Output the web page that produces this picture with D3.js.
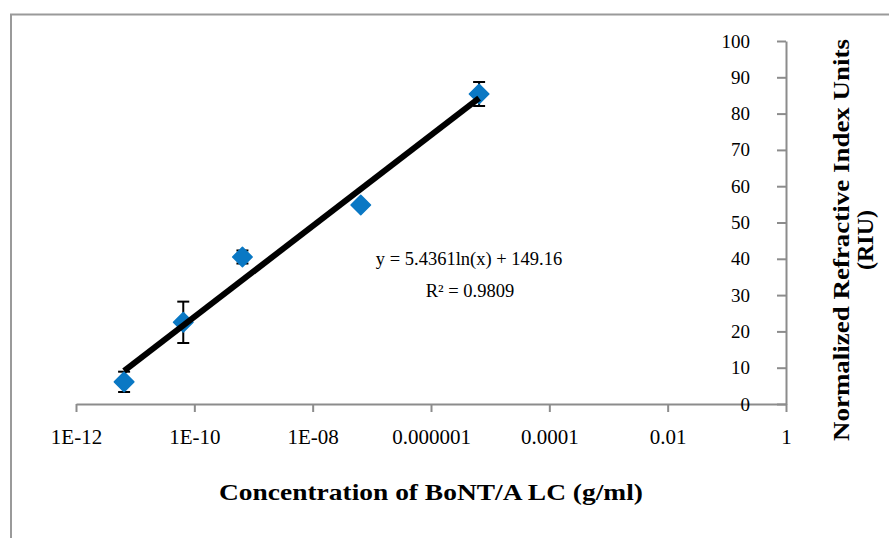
<!DOCTYPE html>
<html>
<head>
<meta charset="utf-8">
<script src="https://cdn.jsdelivr.net/npm/d3@7"></script>
<style>
  body { margin: 0; background: #fff; }
  svg { display: block; font-family: "Liberation Serif", "DejaVu Serif", serif; }
</style>
</head>
<body>
<svg id="chart" width="889" height="538"></svg>
<script>
var svg = d3.select('#chart')
var width = 889, height = 538;

// data
var concentrations = [6.5e-12, 6.5e-11, 6.5e-10, 6.5e-8, 6.5e-6];
var riu = [6.1, 22.5, 40.5, 54.8, 85.4];
var riuErr = [2.8, 5.7, 1.8, 0.6, 3.3];
var xTickValues = [1e-12, 1e-10, 1e-8, 1e-6, 1e-4, 1e-2, 1];
var xTickLabels = ["1E-12", "1E-10", "1E-08", "0.000001", "0.0001", "0.01", "1"];
var yTickValues = [0, 10, 20, 30, 40, 50, 60, 70, 80, 90, 100];
var fitA = 5.4361, fitB = 149.16;

var x = d3.scaleLog().domain([1e-12, 1]).range([76, 786]);
var y = d3.scaleLinear().domain([0, 100]).range([404, 41]);

// outer chart frame (cut off at the right and bottom)
svg.append("rect")
    .attr("x", 11).attr("y", 14.5)
    .attr("width", 1000).attr("height", 1000)
    .attr("fill", "none")
    .attr("stroke", "#9a9a9a")
    .attr("stroke-width", 2)

// x axis
var xAxis = d3.axisBottom(x)
    .tickValues(xTickValues)
    .tickFormat(function (d, i) { return xTickLabels[i] })
    .tickSize(8)
    .tickSizeOuter(0)
var gx = svg.append("g")
    .attr("transform", "translate(0," + y(0) + ")")
    .call(xAxis)
gx.select(".domain").attr("stroke", "#8c8c8c").attr("stroke-width", 2)
gx.selectAll(".tick line").attr("stroke", "#8c8c8c").attr("stroke-width", 2)
gx.selectAll(".tick text")
    .attr("y", 25)
    .attr("font-family", "Liberation Serif")
    .attr("font-size", 21)
    .attr("fill", "#000")

// y axis (drawn on the right side of the plot)
var yAxis = d3.axisLeft(y)
    .tickValues(yTickValues)
    .tickSize(9)
    .tickSizeOuter(0)
var gy = svg.append("g")
    .attr("transform", "translate(" + x(1) + ",0)")
    .call(yAxis)
gy.select(".domain").attr("stroke", "#8c8c8c").attr("stroke-width", 2)
gy.selectAll(".tick line").attr("stroke", "#8c8c8c").attr("stroke-width", 2)
gy.selectAll(".tick text")
    .attr("x", -36)
    .attr("font-family", "Liberation Serif")
    .attr("font-size", 19)
    .attr("fill", "#000")

// error bars
var bars = svg.append("g").attr("stroke", "#000").attr("stroke-width", 2)
concentrations.forEach(function (c, i) {
    var cx = x(c), top = y(riu[i] + riuErr[i]), bot = y(riu[i] - riuErr[i]);
    bars.append("line").attr("x1", cx).attr("x2", cx).attr("y1", top).attr("y2", bot)
    bars.append("line").attr("x1", cx - 6).attr("x2", cx + 6).attr("y1", top).attr("y2", top)
    bars.append("line").attr("x1", cx - 6).attr("x2", cx + 6).attr("y1", bot).attr("y2", bot)
})

// markers
svg.selectAll(".pt")
    .data(concentrations)
    .enter()
    .append("path")
    .attr("class", "pt")
    .attr("d", d3.symbol().type(d3.symbolSquare).size(190))
    .attr("transform", function (d, i) { return "translate(" + x(d) + "," + y(riu[i]) + ") rotate(45)" })
    .attr("fill", "#0A78C4")
    .attr("stroke", "#0A78C4")
    .attr("stroke-width", 1.5)
    .attr("stroke-linejoin", "round")

// logarithmic trendline
var x0 = d3.min(concentrations), x1 = d3.max(concentrations);
svg.append("line")
    .attr("x1", x(x0)).attr("y1", y(fitA * Math.log(x0) + fitB))
    .attr("x2", x(x1)).attr("y2", y(fitA * Math.log(x1) + fitB))
    .attr("stroke", "#000")
    .attr("stroke-width", 6)

// equation label
svg.append("text")
    .attr("x", 469).attr("y", 265)
    .attr("text-anchor", "middle")
    .attr("font-size", 18.5)
    .text("y = 5.4361ln(x) + 149.16")
svg.append("text")
    .attr("x", 470).attr("y", 297)
    .attr("text-anchor", "middle")
    .attr("font-size", 18.5)
    .text("R² = 0.9809")

// axis titles
svg.append("text")
    .attr("x", 431).attr("y", 500)
    .attr("text-anchor", "middle")
    .attr("font-size", 23)
    .attr("font-weight", "bold")
    .attr("textLength", 424)
    .attr("lengthAdjust", "spacingAndGlyphs")
    .text("Concentration of BoNT/A LC (g/ml)")

svg.append("text")
    .attr("transform", "translate(849,240) rotate(-90)")
    .attr("text-anchor", "middle")
    .attr("font-size", 23)
    .attr("font-weight", "bold")
    .attr("textLength", 402)
    .attr("lengthAdjust", "spacingAndGlyphs")
    .text("Normalized Refractive Index Units")
svg.append("text")
    .attr("transform", "translate(873,240) rotate(-90)")
    .attr("text-anchor", "middle")
    .attr("font-size", 23)
    .attr("font-weight", "bold")
    .attr("textLength", 60)
    .attr("lengthAdjust", "spacingAndGlyphs")
    .text("(RIU)")
</script>
</body>
</html>
